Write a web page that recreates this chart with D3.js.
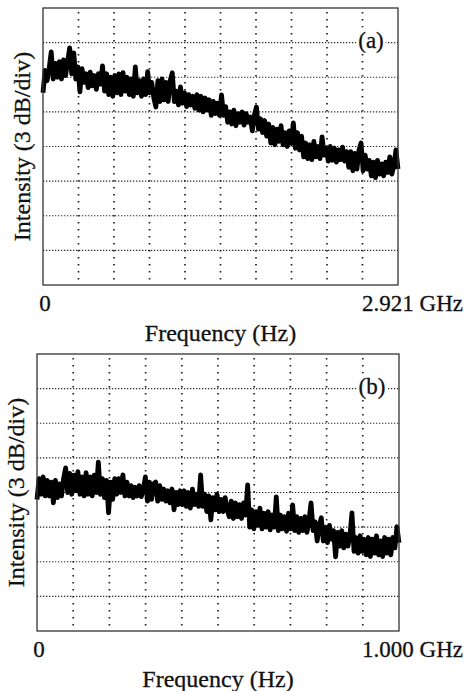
<!DOCTYPE html>
<html>
<head>
<meta charset="utf-8">
<script src="https://cdn.jsdelivr.net/npm/d3@7"></script>
<style>
  body { margin: 0; background: #fff; }
  text { font-family: "Liberation Serif", "DejaVu Serif", serif; fill: #111; stroke: #111; stroke-width: 0.3px; }
</style>
</head>
<body>
<div id="chart"></div>
<script>
// spectrum traces, in grid divisions (3 dB/div), 0 = bottom line
const traceA = [
    5.55, 6.20, 5.90, 6.25,
    6.73, 5.95,
    6.40, 6.00, 6.45, 5.95, 6.50, 6.05, 6.45, 6.85, 6.10, 6.70,
    5.95, 6.30, 5.58, 6.25, 5.85,
    6.10, 5.70, 6.15, 5.75, 6.05, 5.65, 6.10, 5.80,
    6.33, 5.60, 6.10, 5.50, 6.00, 5.45, 6.05, 5.55, 6.10, 5.50, 6.13, 5.60, 6.00,
    5.50, 5.95, 5.45, 6.30, 5.55, 5.90,
    5.45, 5.95, 5.50, 6.16, 5.55, 5.85,
    5.40, 5.14, 5.90, 5.30, 5.95, 5.35, 5.85, 5.30, 5.90, 6.13,
    5.30, 5.60, 5.20, 5.72, 5.25, 5.55, 5.15, 5.50, 5.20, 5.45,
    5.10, 5.50, 5.05, 5.45, 5.00, 5.40, 5.05,
    5.35, 4.90, 5.30, 4.95, 5.25, 4.90,
    5.49, 4.90, 5.15,
    4.70, 5.00, 4.65, 5.05, 4.60, 4.95, 4.70, 5.00, 4.62, 4.95, 4.70,
    4.85, 4.45, 4.90, 5.14, 4.50, 4.80, 4.40, 4.75,
    4.30, 4.65, 4.10, 4.55, 4.05, 4.50, 4.15, 4.60, 4.05, 4.40, 4.00, 4.45, 4.10,
    4.68, 3.95, 4.40, 3.90, 4.30,
    3.70, 4.10, 3.65, 4.05, 3.62, 4.15, 3.70, 4.00, 3.65, 4.28, 3.75,
    3.95, 3.58, 4.00, 3.60, 3.95, 3.55, 3.90, 3.62, 3.98, 3.58, 3.85,
    3.40, 3.85, 3.30, 3.80, 3.35, 3.90, 4.10, 3.30, 3.75, 3.35,
    3.60, 3.15, 3.55, 3.10, 3.60, 3.20, 3.50, 3.15, 3.55, 3.25, 3.70, 3.20, 3.45, 3.90, 3.35
]

const traceB = [
    3.80, 4.40, 3.95, 4.45, 3.90, 4.35,
    3.90, 4.30, 3.70, 4.35, 3.85, 4.25, 3.90, 4.40,
    4.71, 4.00, 4.55, 3.95, 4.50, 4.05, 4.60, 3.95, 4.45,
    3.90, 4.57, 3.95, 4.45, 3.90, 4.50,
    4.00, 4.88, 3.95, 4.40,
    3.85, 4.35, 3.41, 4.30, 3.80, 4.40,
    3.95, 4.40, 4.00, 4.51, 3.90, 4.30,
    3.90, 4.20, 3.85, 4.15, 3.90, 4.20, 3.88, 4.10,
    4.45, 3.75, 4.30, 3.80, 4.25,
    4.30, 3.75, 4.20, 3.80, 4.10, 3.75,
    4.05, 3.70, 4.10, 3.50, 4.00, 3.65, 4.05,
    3.65, 4.05, 3.60, 4.00, 3.55, 4.10, 3.65, 3.95, 3.60, 4.51,
    3.60, 3.95, 3.45, 3.90, 3.21, 3.85, 3.50, 3.95, 3.45,
    3.80, 3.45, 3.85, 3.50,
    3.30, 3.75, 3.25, 3.70, 3.30, 3.65, 3.25, 3.70, 3.35, 4.22,
    3.00, 3.50, 2.95, 3.45, 3.05, 3.55, 2.95, 3.40, 3.00, 3.45, 2.92, 3.35, 3.00,
    3.87, 2.90, 3.35, 2.95, 3.30, 2.88, 3.40, 2.95, 3.64, 2.90,
    3.30, 2.85, 3.25, 2.90, 3.30, 2.85, 3.20, 3.70, 2.90, 3.15,
    2.60, 3.05, 3.27, 2.60, 3.00, 2.55, 3.05, 2.65,
    2.90, 2.14, 2.85, 2.45, 2.90, 2.40, 2.80, 2.45,
    2.75, 3.41, 2.30, 2.70, 2.25, 2.75, 2.30, 2.65,
    2.20, 2.70, 2.15, 2.65, 2.25, 2.75, 2.20, 2.60, 2.15, 2.70, 2.25, 2.65, 2.20, 2.70, 2.40, 3.01, 2.55
]

// span of each sweep in GHz and the labels under the axis
const spanA = 2.921
const spanB = 1.0
const endLabelA = "2.921 GHz"
const endLabelB = "1.000 GHz"
const panelNames = ["(a)", "(b)"]
const xTitle = "Frequency (Hz)"
const yTitle = "Intensity (3 dB/div)"

const divisionsY = 8
const divisionsX = 10

const svg = d3.select("#chart")
  .append("svg")
    .attr("width", 466)
    .attr("height", 691)

function drawPanel(trace, span, endLabel, name, box)
{
    const g = svg.append("g")

    const x = d3.scaleLinear()
        .domain([0, span])
        .range([box.left, box.right])

    const y = d3.scaleLinear()
        .domain([0, divisionsY])
        .range([box.bottom, box.top])

    // horizontal graticule: dense dots
    g.selectAll(".hgrid")
        .data(d3.range(1, divisionsY))
        .join("line")
        .attr("x1", box.left)
        .attr("x2", box.right)
        .attr("y1", d => y(d))
        .attr("y2", d => y(d))
        .attr("stroke", "#2a2a2a")
        .attr("stroke-width", 1.1)
        .attr("stroke-dasharray", "1.3,1.7")

    // vertical graticule: sparse dots
    g.selectAll(".vgrid")
        .data(d3.range(1, divisionsX).map(k => k * span / divisionsX))
        .join("line")
        .attr("x1", d => x(d))
        .attr("x2", d => x(d))
        .attr("y1", box.top + 4)
        .attr("y2", box.bottom - 2)
        .attr("stroke", "#222")
        .attr("stroke-width", 1.7)
        .attr("stroke-dasharray", "1.6,5.4")

    // the trace
    const line = d3.line()
        .x((d, i) => x(i / (trace.length - 1) * span))
        .y(d => y(d))

    g.append("path")
        .datum(trace)
        .attr("d", line)
        .attr("fill", "none")
        .attr("stroke", "#000")
        .attr("stroke-width", 4.8)
        .attr("stroke-linejoin", "round")

    // frame
    g.append("rect")
        .attr("x", box.left)
        .attr("y", box.top)
        .attr("width", box.right - box.left)
        .attr("height", box.bottom - box.top)
        .attr("fill", "none")
        .attr("stroke", "#333")
        .attr("stroke-width", 1.3)

    // panel tag, with white behind it so the grid line breaks
    const tag = g.append("text")
        .attr("x", box.right - 27)
        .attr("y", y(7) + 5)
        .attr("text-anchor", "middle")
        .style("font-size", "23px")
        .text(name)
    const bb = tag.node().getBBox()
    g.insert("rect", "text")
        .attr("x", bb.x - 2)
        .attr("y", bb.y)
        .attr("width", bb.width + 4)
        .attr("height", bb.height)
        .attr("fill", "#fff")

    // axis end labels
    g.append("text")
        .attr("x", x(0) + 2)
        .attr("y", box.bottom + 26)
        .attr("text-anchor", "middle")
        .style("font-size", "23px")
        .text("0")

    g.append("text")
        .attr("x", 463)
        .attr("y", box.bottom + 26)
        .attr("text-anchor", "end")
        .style("font-size", "23px")
        .text(endLabel)

    g.append("text")
        .attr("x", (box.left + box.right) / 2)
        .attr("y", box.bottom + 56)
        .attr("text-anchor", "middle")
        .style("font-size", "24px")
        .text(xTitle)

    g.append("text")
        .attr("transform", `translate(${box.left - 21},${(box.top + box.bottom) / 2}) rotate(-90)`)
        .attr("dy", "0.35em")
        .attr("text-anchor", "middle")
        .style("font-size", "24px")
        .text(yTitle)
}

drawPanel(traceA, spanA, endLabelA, panelNames[0], {left: 43, right: 398, top: 8, bottom: 285})
drawPanel(traceB, spanB, endLabelB, panelNames[1], {left: 37, right: 399, top: 354, bottom: 631})
</script>
</body>
</html>
